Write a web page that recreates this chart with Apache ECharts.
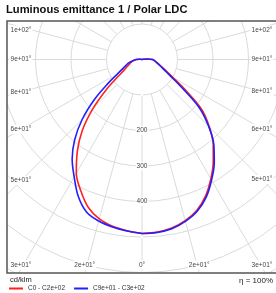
<!DOCTYPE html>
<html>
<head>
<meta charset="utf-8">
<script src="https://cdn.jsdelivr.net/npm/echarts@6/dist/echarts.min.js"></script>
<style>
  html, body { margin: 0; padding: 0; background: #fff; }
  #graph { width: 276px; height: 293px; }
</style>
</head>
<body>
<div id="graph"></div>
<script>
// gamma angles (deg), 0 = straight down
const gammas = [0, 5, 10, 15, 20, 25, 30, 35, 40, 45, 50, 55, 60, 65, 70, 75, 80, 85, 90, 95, 100, 105, 110, 120, 135, 150, 165, 180]
// cd/klm, per half plane
const redLeft = [490, 484, 477, 465, 443, 408, 370, 318, 262, 195, 130, 80, 57, 46, 38, 32, 27, 22, 16, 8, 3, 0, 0, 0, 0, 0, 0, 0]
const redRight = [490, 488, 482, 470, 452, 424, 388, 350, 312, 268, 220, 148, 100, 74, 58, 48, 41, 35, 30, 15, 5, 0, 0, 0, 0, 0, 0, 0]
const blueLeft = [490, 485, 479, 471, 457, 425, 382, 343, 295, 238, 175, 116, 78, 59, 48, 40, 30, 22, 16, 8, 3, 0, 0, 0, 0, 0, 0, 0]
const blueRight = [490, 489, 484, 472, 455, 428, 392, 355, 315, 265, 210, 135, 92, 69, 56, 47, 40, 35, 30, 15, 5, 0, 0, 0, 0, 0, 0, 0]

const seriesNames = ['C0 - C2e+02', 'C9e+01 - C3e+02']
const radiusLabels = [200, 300, 400]
const gammaTicks = [105, 90, 75, 60, 45, 30, 15, 0]
const gammaTickText = ['1e+02°', '9e+01°', '8e+01°', '6e+01°', '5e+01°', '3e+01°', '2e+01°', '0°']

const CX = 142
const CY = 59.5
const R_IN = 35.5
const R_OUT = 284
const BOX = { x: 7, y: 21, w: 276, h: 252 }
const FONT = 'Liberation Sans, Arial, sans-serif'

// left half: angle = gamma, right half: angle = 360 - gamma
function curve (left, right) {
  const pts = left.map((v, i) => [v, gammas[i]])
  for (let i = right.length - 1; i >= 0; i--) {
    pts.push([right[i], 360 - gammas[i]])
  }
  return pts
}

// place the gamma labels where each spoke reaches the label column / row
function gammaLabels () {
  const out = []
  const rowY = 265
  const colL = 21
  const colR = 262
  gammaTicks.forEach((g, i) => {
    const rad = g * Math.PI / 180
    const sides = g === 0 ? [0] : [-1, 1]
    sides.forEach(s => {
      let x, y
      if (g >= 45) {
        x = s < 0 ? colL : colR
        y = CY + Math.abs(x - CX) * Math.cos(rad) / Math.sin(rad)
        y = Math.max(y, 30)
      } else {
        y = rowY
        x = CX + s * (273 - CY) * Math.tan(rad)
        x = Math.min(Math.max(x, colL), colR)
      }
      out.push({
        type: 'text',
        z: 60,
        x, y,
        style: {
          text: gammaTickText[i],
          fontSize: 6.5,
          fontFamily: FONT,
          fill: '#444',
          align: 'center',
          verticalAlign: 'middle',
          backgroundColor: '#fff',
          padding: [1, 1]
        }
      })
    })
  })
  return out
}

const chart = echarts.init(document.getElementById('graph'))
const option = {
  animation: false,
  title: {
    text: 'Luminous emittance 1 / Polar LDC',
    left: 6,
    top: 4,
    padding: 0,
    z: 70,
    textStyle: { fontSize: 11.2, fontWeight: 'bold', fontFamily: FONT, color: '#111' }
  },
  legend: {
    left: 9,
    top: 285,
    z: 70,
    icon: 'rect',
    itemWidth: 14,
    itemHeight: 2,
    itemGap: 9,
    padding: 0,
    textStyle: { fontSize: 6.5, fontFamily: FONT, color: '#333' },
    data: seriesNames
  },
  polar: [
    { center: [CX, CY], radius: [R_IN, R_OUT] },
    { center: [CX, CY], radius: [0, R_OUT] }
  ],
  radiusAxis: [
    {
      polarIndex: 0,
      type: 'value',
      min: 100,
      max: 800,
      interval: 100,
      axisLine: { show: false },
      axisTick: { show: false },
      splitLine: { show: true, lineStyle: { color: '#dadada', width: 1 } },
      axisLabel: {
        show: true,
        margin: 0,
        align: 'center',
        verticalAlign: 'middle',
        fontSize: 6.5,
        fontFamily: FONT,
        color: '#444',
        backgroundColor: '#fff',
        padding: [1, 1],
        formatter: v => radiusLabels.includes(v) ? String(v) : ''
      },
      z: 3
    },
    { polarIndex: 1, type: 'value', min: 0, max: 800, show: false }
  ],
  angleAxis: [
    {
      polarIndex: 0,
      type: 'value',
      min: 0,
      max: 360,
      interval: 15,
      startAngle: -90,
      clockwise: true,
      axisLine: { show: false },
      axisTick: { show: false },
      axisLabel: { show: false },
      splitLine: { show: true, lineStyle: { color: '#dadada', width: 1 } }
    },
    {
      polarIndex: 1,
      type: 'value',
      min: 0,
      max: 360,
      startAngle: -90,
      clockwise: true,
      show: false
    }
  ],
  series: [
    {
      name: seriesNames[0],
      type: 'line',
      coordinateSystem: 'polar',
      polarIndex: 1,
      showSymbol: false,
      smooth: 0.35,
      color: '#ff2020',
      lineStyle: { width: 1.6, color: '#ff2020' },
      data: curve(redLeft, redRight),
      z: 10
    },
    {
      name: seriesNames[1],
      type: 'line',
      coordinateSystem: 'polar',
      polarIndex: 1,
      showSymbol: false,
      smooth: 0.35,
      color: '#2020ff',
      lineStyle: { width: 1.6, color: '#2020ff' },
      data: curve(blueLeft, blueRight),
      z: 11
    }
  ],
  graphic: [
    // mask everything that falls outside the plot box
    { type: 'rect', z: 50, shape: { x: 0, y: 0, width: 276, height: BOX.y }, style: { fill: '#fff' } },
    { type: 'rect', z: 50, shape: { x: 0, y: 0, width: BOX.x, height: 293 }, style: { fill: '#fff' } },
    { type: 'rect', z: 50, shape: { x: 0, y: BOX.y + BOX.h, width: 276, height: 293 - BOX.y - BOX.h }, style: { fill: '#fff' } },
    { type: 'rect', z: 55, shape: { x: BOX.x, y: BOX.y, width: BOX.w, height: BOX.h }, style: { fill: 'none', stroke: '#555', lineWidth: 1.5 } },
    { type: 'text', z: 60, x: 10, y: 280, style: { text: 'cd/klm', fontSize: 7.5, fontFamily: FONT, fill: '#222', verticalAlign: 'middle' } },
    { type: 'text', z: 60, x: 273, y: 281, style: { text: 'η = 100%', fontSize: 8, fontFamily: FONT, fill: '#222', align: 'right', verticalAlign: 'middle' } }
  ].concat(gammaLabels())
}
chart.setOption(option)
</script>
</body>
</html>
